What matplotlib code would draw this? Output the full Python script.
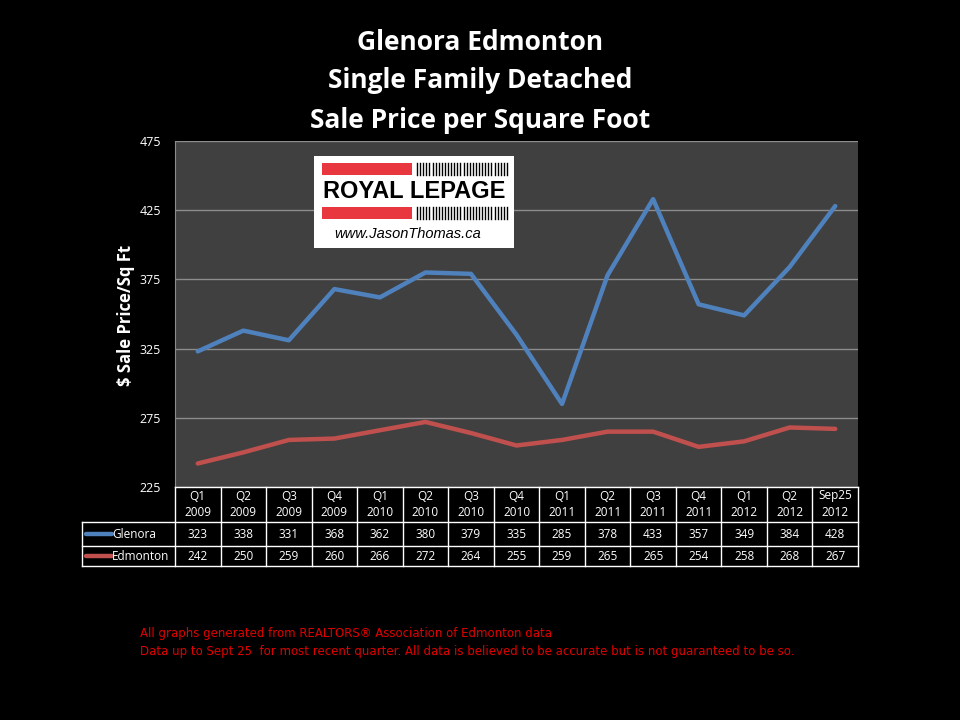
import numpy as np
import matplotlib
matplotlib.use("Agg")
import matplotlib.pyplot as plt
from matplotlib.patches import Rectangle

# data
quarters = ['Q1', 'Q2', 'Q3', 'Q4', 'Q1', 'Q2', 'Q3', 'Q4', 'Q1', 'Q2', 'Q3', 'Q4', 'Q1', 'Q2', 'Sep25']
years = ['2009', '2009', '2009', '2009', '2010', '2010', '2010', '2010',
         '2011', '2011', '2011', '2011', '2012', '2012', '2012']
glenora = [323, 338, 331, 368, 362, 380, 379, 335, 285, 378, 433, 357, 349, 384, 428]
edmonton = [242, 250, 259, 260, 266, 272, 264, 255, 259, 265, 265, 254, 258, 268, 267]
yticks = [225, 275, 325, 375, 425, 475]

blue = '#4f81bd'
red = '#c0504d'
W, H = 960, 720

plt.rcParams['font.family'] = ['Open Sans', 'DejaVu Sans']

fig = plt.figure(figsize=(9.6, 7.2), dpi=100, facecolor='black')

def fx(px):
    return px / W

def fy(py):
    return 1 - py / H

# plot area
x0, x1, ytop, ybot = 175, 858, 141, 487
ax = fig.add_axes([fx(x0), fy(ybot), fx(x1 - x0), (ybot - ytop) / H])
ax.set_facecolor('#404040')
n = len(glenora)
x = np.arange(n)
ax.plot(x, glenora, color=blue, lw=3.2, solid_capstyle='round', zorder=3)
ax.plot(x, edmonton, color=red, lw=3.2, solid_capstyle='round', zorder=3)
ax.set_xlim(-0.5, n - 0.5)
ax.set_ylim(225, 475)
ax.set_yticks(yticks)
ax.set_yticklabels([str(v) for v in yticks], color='white', fontsize=9)
ax.tick_params(axis='y', length=0, pad=10)
ax.set_xticks([])
ax.grid(axis='y', color='#8c8c8c', lw=1)
ax.set_axisbelow(True)
for s in ['top', 'right', 'bottom']:
    ax.spines[s].set_visible(False)
ax.spines['left'].set_color('#8c8c8c')

# titles
for txt, py in [('Glenora Edmonton', 42), ('Single Family Detached', 81), ('Sale Price per Square Foot', 120)]:
    fig.text(0.5, fy(py), txt, color='white', fontsize=19, fontweight='bold',
             ha='center', va='center')
fig.text(fx(126), fy(315), '$ Sale Price/Sq Ft', color='white', fontsize=12,
         fontweight='bold', rotation=90, ha='center', va='center')

# data table under the plot
tb = fig.add_axes([0, 0, 1, 1], facecolor='none')
tb.set_xlim(0, W)
tb.set_ylim(H, 0)
tb.axis('off')
cw = (x1 - x0) / n
lc = 'white'
r0, r1, r2, r3 = 487, 522, 546, 566
left = 82
for i in range(n + 1):
    xx = x0 + i * cw
    tb.plot([xx, xx], [r0, r3], color=lc, lw=1)
tb.plot([left, left], [r1, r3], color=lc, lw=1)
tb.plot([x0, x1], [r0, r0], color=lc, lw=1)
for yy in [r1, r2, r3]:
    tb.plot([left, x1], [yy, yy], color=lc, lw=1)
fs = 8.5
for i in range(n):
    cx = x0 + (i + 0.5) * cw
    tb.text(cx, r0 + 9, quarters[i], color='white', fontsize=fs, ha='center', va='center')
    tb.text(cx, r0 + 26, years[i], color='white', fontsize=fs, ha='center', va='center')
    tb.text(cx, (r1 + r2) / 2, str(glenora[i]), color='white', fontsize=fs, ha='center', va='center')
    tb.text(cx, (r2 + r3) / 2, str(edmonton[i]), color='white', fontsize=fs, ha='center', va='center')
for (yy, name, c) in [((r1 + r2) / 2, 'Glenora', blue), ((r2 + r3) / 2, 'Edmonton', red)]:
    tb.plot([86, 112], [yy, yy], color=c, lw=3.2, solid_capstyle='round')
    tb.text(112, yy, name, color='white', fontsize=fs, ha='left', va='center')

# logo
tb.add_patch(Rectangle((314, 156), 200, 92, facecolor='white', edgecolor='none', zorder=4))
for by in [163, 207]:
    tb.add_patch(Rectangle((322, by), 90, 12, facecolor='#e8373e', edgecolor='none', zorder=5))
    for k in range(30):
        xx = 417 + k * 3.1
        tb.plot([xx, xx], [by, by + 12], color='black', lw=1.0, zorder=5)
tb.text(414, 192, 'ROYAL LEPAGE', color='black', fontsize=17, fontweight='bold',
        ha='center', va='center', zorder=6, family=['Liberation Sans', 'DejaVu Sans'])
tb.text(408, 234, 'www.JasonThomas.ca', color='black', fontsize=10.5, style='italic',
        ha='center', va='center', zorder=6, family=['Liberation Sans', 'DejaVu Sans'])

# footer
foot = ['All graphs generated from REALTORS\u00ae Association of Edmonton data',
        'Data up to Sept 25  for most recent quarter. All data is believed to be accurate but is not guaranteed to be so.']
for txt, py in zip(foot, [634, 651]):
    fig.text(fx(140), fy(py), txt, color='#e00000', fontsize=8.5, ha='left', va='center',
             family=['Liberation Sans Narrow', 'DejaVu Sans'])

fig.savefig('out.png', dpi=100, facecolor='black')
